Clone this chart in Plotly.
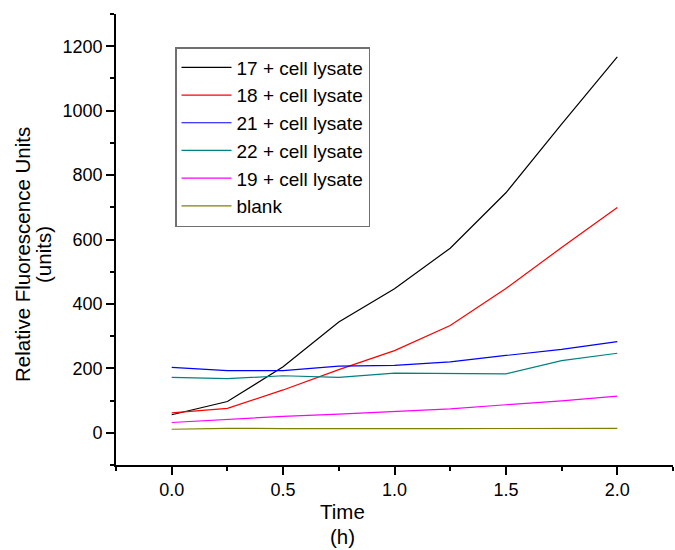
import plotly.graph_objects as go

time_h = [0.0, 0.25, 0.5, 0.75, 1.0, 1.25, 1.5, 1.75, 2.0]
s17 = [56, 97, 205, 344, 447, 573, 745, 958, 1167]
s18 = [62, 76, 133, 196, 255, 333, 448, 575, 699]
s21 = [203, 193, 193, 207, 209, 220, 240, 259, 283]
s22 = [172, 168, 177, 172, 185, 184, 183, 224, 247]
s19 = [32, 42, 51, 58, 66, 74, 87, 99, 114]
blank = [11, 14, 13, 14, 13, 13, 13, 13, 14]

series_names = ["17 + cell lysate", "18 + cell lysate", "21 + cell lysate",
                "22 + cell lysate", "19 + cell lysate", "blank"]
series_values = [s17, s18, s21, s22, s19, blank]
colors = ["#000000", "#FF0000", "#0000FF", "#008080", "#FF00FF", "#808000"]

FONT = "Liberation Sans, Arial, sans-serif"

fig = go.Figure()
for name, vals, c in zip(series_names, series_values, colors):
    fig.add_trace(go.Scatter(x=time_h, y=vals, mode="lines", name=name,
                             line=dict(color=c, width=1.2)))

W, H = 675, 550
ml, mr, mt, mb = 116, 2, 14, 85
pw, ph = W - ml - mr, H - mt - mb

def px_to_paper(xp, yp):
    return (xp - ml) / pw, (H - mb - yp) / ph

axis_common = dict(showline=True, linecolor="black", linewidth=1.6,
                   showgrid=False, zeroline=False, ticks="outside",
                   ticklen=8, tickwidth=1.6, tickcolor="black",
                   tickfont=dict(family=FONT, size=18, color="black"))

fig.update_xaxes(range=[-0.25, 2.25], tickmode="array",
                 tickvals=[0, 0.5, 1.0, 1.5, 2.0],
                 ticktext=["0.0", "0.5", "1.0", "1.5", "2.0"],
                 minor=dict(ticks="outside", ticklen=4, tickwidth=1.6,
                            tickcolor="black", dtick=0.25, tick0=-0.25),
                 **axis_common)
fig.update_yaxes(range=[-100, 1300], dtick=200, tick0=0,
                 minor=dict(ticks="outside", ticklen=4, tickwidth=1.6,
                            tickcolor="black", dtick=100, tick0=-100),
                 **axis_common)

ann = []
yx, yy = px_to_paper(22, 255)
ann.append(dict(text="Relative Fluorescence Units", x=yx, y=yy, textangle=-90))
yx2, _ = px_to_paper(43, 255)
ann.append(dict(text="(units)", x=yx2, y=yy, textangle=-90))
tx, ty = px_to_paper(342, 511)
ann.append(dict(text="Time", x=tx, y=ty))
hx, hy = px_to_paper(342, 536)
ann.append(dict(text="(h)", x=hx, y=hy))
for a in ann:
    a.update(xref="paper", yref="paper", showarrow=False,
             xanchor="center", yanchor="middle",
             font=dict(family=FONT, size=20.5, color="black"))

lx, ly = px_to_paper(175, 47)
fig.update_layout(
    width=W, height=H,
    margin=dict(l=ml, r=mr, t=mt, b=mb, pad=0),
    paper_bgcolor="white", plot_bgcolor="white",
    annotations=ann,
    showlegend=True,
    legend=dict(x=lx, y=ly, xanchor="left", yanchor="top",
                bordercolor="#707070", borderwidth=1.5, bgcolor="white",
                font=dict(family=FONT, size=19, color="black"),
                itemwidth=50, tracegroupgap=0),
)

fig.write_html("out.html")
